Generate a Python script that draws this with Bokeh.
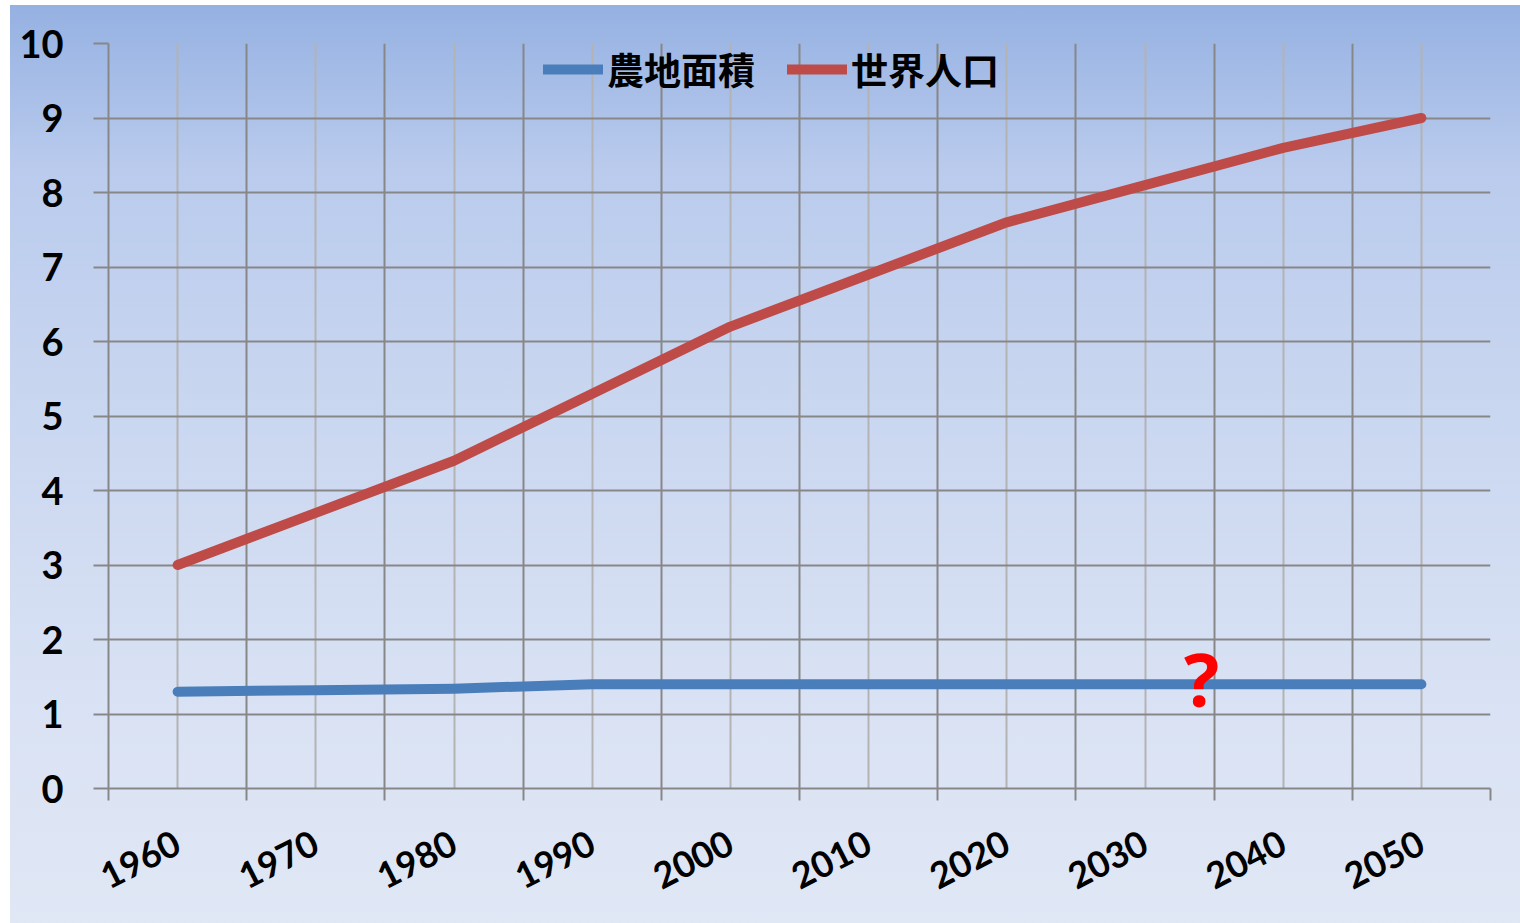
from bokeh.plotting import figure
from bokeh.models import (Range1d, FixedTicker, Legend, LegendItem, Label)
from bokeh.embed import file_html
from bokeh.resources import INLINE

# ---- data ----
years = ["1960", "1970", "1980", "1990", "2000", "2010", "2020", "2030", "2040", "2050"]
farmland = [1.30, 1.32, 1.34, 1.40, 1.40, 1.40, 1.40, 1.40, 1.40, 1.40]
population = [3.0, 3.7, 4.4, 5.3, 6.2, 6.9, 7.6, 8.1, 8.6, 9.0]
y_ticks = list(range(0, 11))
series_names = ["農地面積", "世界人口"]
question_mark = "?"

xs = [i + 0.5 for i in range(len(years))]
bounds = list(range(0, len(years) + 1))

p = figure(width=1510, height=918, output_backend="svg", toolbar_location=None,
           x_range=Range1d(0, len(years)), y_range=Range1d(0, 10))
p.margin = (5, 0, 0, 10)
p.min_border_left = 98
p.min_border_top = 38
p.min_border_right = 30
p.min_border_bottom = 135
p.background_fill_color = None
p.border_fill_color = None
p.outline_line_color = None
p.styles = {"background": "linear-gradient(180deg, #95b1e2 0%, #bacbed 18%, #cad7f0 45%, #d9e2f4 75%, #e0e7f5 100%)"}

GRID_DARK = "#878787"
GRID_LIGHT = "#b3b3b3"

# x axis
xt = FixedTicker(ticks=xs, minor_ticks=bounds)
p.xaxis.ticker = xt
p.xgrid.ticker = xt
p.xaxis.major_label_overrides = {x: y for x, y in zip(xs, years)}
p.xaxis.major_tick_out = 0
p.xaxis.major_tick_in = 0
p.xaxis.minor_tick_out = 12
p.xaxis.minor_tick_in = 0
p.xaxis.minor_tick_line_color = GRID_DARK
p.xaxis.minor_tick_line_width = 2
p.xaxis.axis_line_color = GRID_DARK
p.xaxis.axis_line_width = 2
p.xaxis.major_label_orientation = 0.47
p.xaxis.major_label_standoff = 40
p.xaxis.major_label_text_font = "Lato"
p.xaxis.major_label_text_font_style = "bold"
p.xaxis.major_label_text_font_size = "36px"
p.xaxis.major_label_text_color = "black"
p.xgrid.grid_line_color = GRID_LIGHT
p.xgrid.grid_line_width = 2
p.xgrid.minor_grid_line_color = GRID_DARK
p.xgrid.minor_grid_line_width = 2

# y axis
yt = FixedTicker(ticks=y_ticks, minor_ticks=[])
p.yaxis.ticker = yt
p.ygrid.ticker = yt
p.yaxis.major_tick_out = 15
p.yaxis.major_tick_in = 0
p.yaxis.major_tick_line_color = GRID_DARK
p.yaxis.major_tick_line_width = 2
p.yaxis.minor_tick_out = 0
p.yaxis.minor_tick_in = 0
p.yaxis.axis_line_color = GRID_DARK
p.yaxis.axis_line_width = 2
p.yaxis.major_label_standoff = 30
p.yaxis.major_label_text_font = "Lato"
p.yaxis.major_label_text_font_style = "bold"
p.yaxis.major_label_text_font_size = "38px"
p.yaxis.major_label_text_color = "black"
p.ygrid.grid_line_color = GRID_DARK
p.ygrid.grid_line_width = 2

# series
r1 = p.line(xs, farmland, line_color="#4a7ebb", line_width=10, line_cap="round", line_join="round")
r2 = p.line(xs, population, line_color="#be4b48", line_width=10, line_cap="round", line_join="round")

legend = Legend(items=[LegendItem(label=series_names[0], renderers=[r1]),
                       LegendItem(label=series_names[1], renderers=[r2])],
                orientation="horizontal", location=(435, 692),
                background_fill_alpha=0, border_line_alpha=0,
                label_text_font="Noto Sans CJK JP", label_text_font_style="bold",
                label_text_font_size="37px", label_text_color="black",
                glyph_width=60, glyph_height=48, label_standoff=4, spacing=32,
                padding=0, margin=0)
p.add_layout(legend)

p.add_layout(Label(x=7.91, y=1.47, text=question_mark, text_color="#ff0000",
                   text_font="Open Sans", text_font_style="bold", text_font_size="74px",
                   text_align="center", text_baseline="alphabetic"))

open("out.html", "w").write(file_html(p, INLINE))
